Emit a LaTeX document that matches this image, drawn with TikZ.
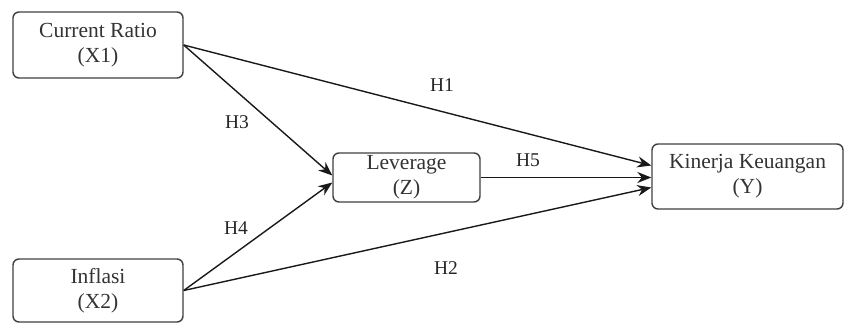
\documentclass[tikz,border=0pt]{standalone}
\usepackage{fontspec}
\setmainfont{Liberation Serif}
\usetikzlibrary{arrows.meta}
\begin{document}
\begin{tikzpicture}[x=1pt,y=-1pt,
  box/.style={draw=black!75,line width=1.4pt,rounded corners=6pt,fill=white,
    align=center,inner sep=0pt,text=black!80,
    font=\fontsize{21.5}{25}\selectfont},
  arr/.style={draw=black!90,line width=1.4pt,-{Stealth[length=14pt,width=11pt]}},
  lab/.style={font=\fontsize{19.5}{22}\selectfont,text=black!85,inner sep=0pt}]
\useasboundingbox (0,0) rectangle (846,324);
\node[box,minimum width=170pt,minimum height=66pt] (cr) at (98,45) {Current Ratio\\(X1)};
\node[box,minimum width=170pt,minimum height=63pt] (inf) at (98,290.5) {Inflasi\\(X2)};
\node[box,minimum width=147pt,minimum height=49pt] (lev) at (406.5,177.5) {Leverage\\(Z)};
\node[box,minimum width=191pt,minimum height=65pt] (ky) at (747.5,176.5) {Kinerja Keuangan\\(Y)};
\draw[arr] (cr.east) -- ([yshift=11pt]ky.west);
\draw[arr] (cr.east) -- ([yshift=2pt]lev.west);
\draw[arr] (inf.east) -- ([yshift=-5pt]lev.west);
\draw[arr] (inf.east) -- ([yshift=-11pt]ky.west);
\draw[arr] (lev.east) -- (lev.east -| ky.west);
\node[lab] (h1) at (442,85) {H1};
\node[lab] (h3) at (237,122) {H3};
\node[lab] (h5) at (528,160) {H5};
\node[lab] (h4) at (236,228) {H4};
\node[lab] (h2) at (446,268) {H2};
\end{tikzpicture}
\end{document}
